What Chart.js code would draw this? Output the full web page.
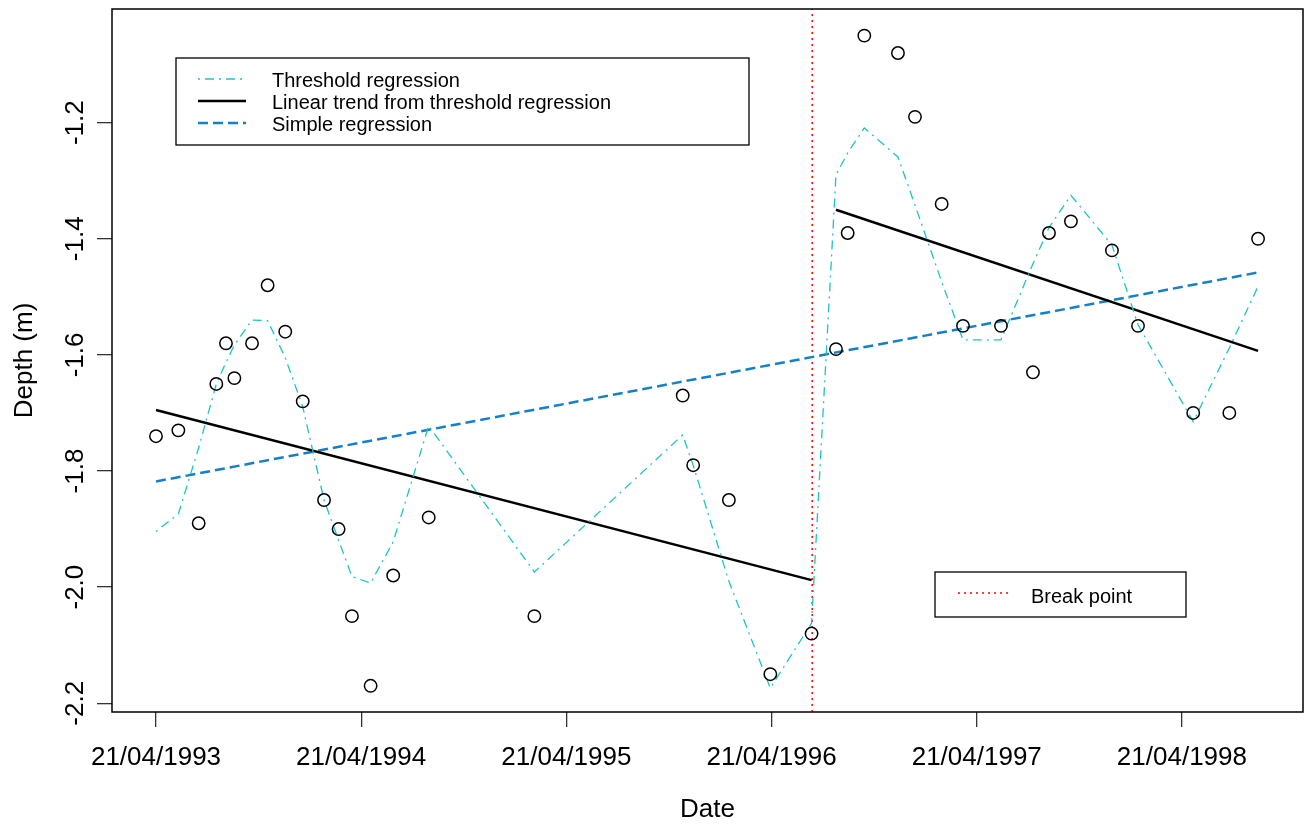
<!DOCTYPE html>
<html>
<head>
<meta charset="utf-8">
<script src="https://cdn.jsdelivr.net/npm/chart.js@4.4.1/dist/chart.umd.min.js"></script>
<style>
  html, body { margin: 0; padding: 0; background: #ffffff; }
  #wrap { position: relative; width: 1311px; height: 828px; }
</style>
</head>
<body>
<div id="wrap"><canvas id="c"></canvas></div>
<script>
// ---- Data (x in years since 21/04/1993) ----
const sampleYears = [0.000,0.109,0.208,0.294,0.341,0.382,0.468,0.544,0.630,0.715,0.819,0.890,0.955,1.046,1.156,1.329,1.844,2.567,2.618,2.792,2.994,3.195,3.314,3.371,3.452,3.616,3.699,3.829,3.933,4.118,4.274,4.352,4.459,4.659,4.786,5.055,5.231,5.371];
const depth = [-1.74,-1.73,-1.89,-1.65,-1.58,-1.64,-1.58,-1.48,-1.56,-1.68,-1.85,-1.90,-2.05,-2.17,-1.98,-1.88,-2.05,-1.67,-1.79,-1.85,-2.15,-2.08,-1.59,-1.39,-1.05,-1.08,-1.19,-1.34,-1.55,-1.55,-1.63,-1.39,-1.37,-1.42,-1.55,-1.70,-1.70,-1.40];
const thresholdFit = [-1.904,-1.874,-1.760,-1.650,-1.613,-1.583,-1.540,-1.541,-1.605,-1.689,-1.850,-1.919,-1.982,-1.993,-1.922,-1.722,-1.974,-1.738,-1.790,-1.990,-2.174,-2.062,-1.290,-1.252,-1.209,-1.259,-1.342,-1.474,-1.574,-1.574,-1.443,-1.381,-1.325,-1.411,-1.548,-1.715,-1.588,-1.482];
const trendBeforeX = [0.000, 3.195];
const trendBeforeY = [-1.695, -1.988];
const trendAfterX = [3.314, 5.371];
const trendAfterY = [-1.350, -1.593];
const simpleRegX = [0.000, 5.371];
const simpleRegY = [-1.818, -1.458];
const breakPointYear = 3.198;

const xTickValues = [0, 1, 2, 3, 4, 5];
const xTickLabels = ['21/04/1993','21/04/1994','21/04/1995','21/04/1996','21/04/1997','21/04/1998'];
const yTickValues = [-2.2, -2.0, -1.8, -1.6, -1.4, -1.2];
const yTickLabels = ['-2.2','-2.0','-1.8','-1.6','-1.4','-1.2'];

const X_MIN = -0.2144, X_MAX = 5.590;
const Y_MIN = -2.2151, Y_MAX = -1.0042;

const CYAN = '#1CC3C8';
const BLUE = '#1580C8';
const FONT = 'Liberation Sans, Arial, Helvetica, sans-serif';
Chart.defaults.font.family = FONT;
Chart.defaults.color = '#000';

const pts = (xs, ys) => xs.map((x, i) => ({x: x, y: ys[i]}));

const CYAN_DASH = [2, 5, 9, 5];
const BLUE_DASH = [10, 5];
const RED_DOT = [2, 4];

const zeroPad = s => { s.paddingTop = 0; s.paddingBottom = 0; s.paddingLeft = 0; s.paddingRight = 0; };

const frameAndLegends = {
  id: 'frameAndLegends',
  afterDatasetsDraw(chart) {
    const ctx = chart.ctx;
    const a = chart.chartArea;
    ctx.save();
    // plot box
    ctx.strokeStyle = '#000';
    ctx.lineWidth = 1.5;
    ctx.setLineDash([]);
    ctx.strokeRect(a.left, a.top, a.right - a.left, a.bottom - a.top);

    // legend 1
    ctx.fillStyle = '#fff';
    ctx.fillRect(176, 58, 573, 87);
    ctx.lineWidth = 1.3;
    ctx.strokeStyle = '#000';
    ctx.strokeRect(176, 58, 573, 87);
    const rows = [
      {text: 'Threshold regression', color: CYAN, dash: CYAN_DASH, w: 1.3, y: 79},
      {text: 'Linear trend from threshold regression', color: '#000', dash: [], w: 2.5, y: 101},
      {text: 'Simple regression', color: BLUE, dash: BLUE_DASH, w: 2.5, y: 123}
    ];
    ctx.font = '20px ' + FONT;
    ctx.textBaseline = 'alphabetic';
    ctx.textAlign = 'left';
    rows.forEach(r => {
      ctx.beginPath();
      ctx.setLineDash(r.dash);
      ctx.strokeStyle = r.color;
      ctx.lineWidth = r.w;
      ctx.moveTo(198, r.y);
      ctx.lineTo(246, r.y);
      ctx.stroke();
      ctx.fillStyle = '#000';
      ctx.fillText(r.text, 272, r.y + 8);
    });

    // legend 2
    ctx.setLineDash([]);
    ctx.fillStyle = '#fff';
    ctx.fillRect(935, 572, 251, 45);
    ctx.strokeStyle = '#000';
    ctx.lineWidth = 1.3;
    ctx.strokeRect(935, 572, 251, 45);
    ctx.beginPath();
    ctx.setLineDash(RED_DOT);
    ctx.strokeStyle = '#FF0000';
    ctx.lineWidth = 1.5;
    ctx.moveTo(958, 593);
    ctx.lineTo(1008, 593);
    ctx.stroke();
    ctx.setLineDash([]);
    ctx.fillStyle = '#000';
    ctx.fillText('Break point', 1031, 603);
    ctx.restore();
  }
};

new Chart(document.getElementById('c'), {
  type: 'scatter',
  data: {
    datasets: [
      {
        label: 'Observed',
        data: pts(sampleYears, depth),
        showLine: false,
        pointStyle: 'circle',
        pointRadius: 6.2,
        pointBorderWidth: 1.5,
        pointBorderColor: '#000',
        pointBackgroundColor: 'rgba(0,0,0,0)',
        pointHoverRadius: 6.2
      },
      {
        label: 'Threshold regression',
        data: pts(sampleYears, thresholdFit),
        showLine: true,
        borderColor: CYAN,
        borderWidth: 1.3,
        borderDash: CYAN_DASH,
        pointRadius: 0,
        tension: 0
      },
      {
        label: 'Linear trend from threshold regression',
        data: pts(trendBeforeX, trendBeforeY),
        showLine: true,
        borderColor: '#000',
        borderWidth: 2.5,
        pointRadius: 0
      },
      {
        label: 'Linear trend (after break)',
        data: pts(trendAfterX, trendAfterY),
        showLine: true,
        borderColor: '#000',
        borderWidth: 2.5,
        pointRadius: 0
      },
      {
        label: 'Simple regression',
        data: pts(simpleRegX, simpleRegY),
        showLine: true,
        borderColor: BLUE,
        borderWidth: 2.5,
        borderDash: BLUE_DASH,
        pointRadius: 0
      },
      {
        label: 'Break point',
        data: [{x: breakPointYear, y: Y_MIN}, {x: breakPointYear, y: Y_MAX}],
        showLine: true,
        borderColor: '#FF0000',
        borderWidth: 1.5,
        borderDash: RED_DOT,
        pointRadius: 0
      }
    ]
  },
  options: {
    responsive: true,
    maintainAspectRatio: false,
    animation: false,
    events: [],
    layout: { padding: { left: 0, right: 8, top: 9, bottom: 0 } },
    plugins: {
      legend: { display: false },
      tooltip: { enabled: false }
    },
    scales: {
      x: {
        type: 'linear',
        min: X_MIN,
        max: X_MAX,
        afterBuildTicks: s => { s.ticks = xTickValues.map(v => ({value: v})); },
        afterFit: s => { s.height = 116; zeroPad(s); },
        border: { display: false },
        grid: { display: true, drawOnChartArea: false, drawTicks: true, tickLength: 15, color: '#333', lineWidth: 1.3 },
        ticks: {
          autoSkip: false, maxRotation: 0, minRotation: 0, padding: 15,
          font: { size: 26 }, color: '#000',
          callback: (v) => { const i = xTickValues.indexOf(v); return i >= 0 ? xTickLabels[i] : ''; }
        },
        title: { display: true, text: 'Date', font: { size: 26 }, color: '#000', padding: { top: 0, bottom: 3 } }
      },
      y: {
        type: 'linear',
        min: Y_MIN,
        max: Y_MAX,
        afterBuildTicks: s => { s.ticks = yTickValues.map(v => ({value: v})); },
        afterFit: s => { s.width = 112; zeroPad(s); },
        border: { display: false },
        grid: { display: true, drawOnChartArea: false, drawTicks: true, tickLength: 15, color: '#333', lineWidth: 1.3 },
        ticks: {
          minRotation: 90, maxRotation: 90, crossAlign: 'center', padding: -1,
          font: { size: 26 }, color: '#000',
          callback: (v) => { const i = yTickValues.findIndex(t => Math.abs(t - v) < 1e-9); return i >= 0 ? yTickLabels[i] : ''; }
        },
        title: { display: true, text: 'Depth (m)', font: { size: 26 }, color: '#000', padding: { top: 9, bottom: 0 } }
      }
    }
  },
  plugins: [frameAndLegends]
});
</script>
</body>
</html>
